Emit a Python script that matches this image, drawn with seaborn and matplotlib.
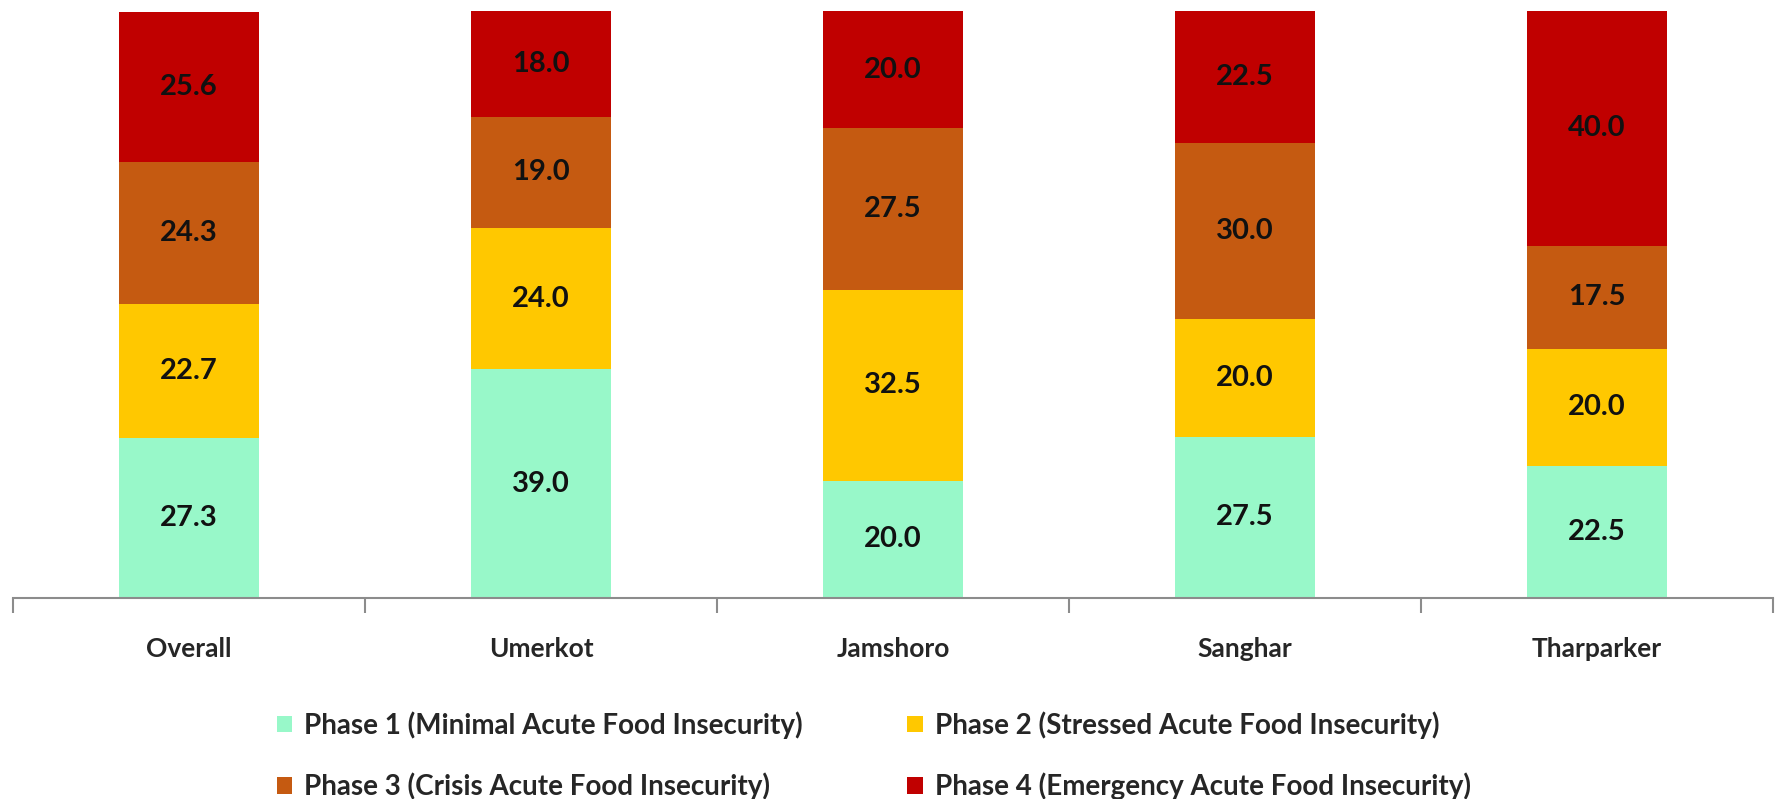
import matplotlib
matplotlib.use("Agg")
import matplotlib.pyplot as plt
from matplotlib.patches import Patch
import numpy as np
import pandas as pd
import seaborn as sns

districts = ["Overall", "Umerkot", "Jamshoro", "Sanghar", "Tharparker"]
phase1 = [27.3, 39.0, 20.0, 27.5, 22.5]
phase2 = [22.7, 24.0, 32.5, 20.0, 20.0]
phase3 = [24.3, 19.0, 27.5, 30.0, 17.5]
phase4 = [25.6, 18.0, 20.0, 22.5, 40.0]
phase_names = ["Phase 1 (Minimal Acute Food Insecurity)",
               "Phase 2 (Stressed Acute Food Insecurity)",
               "Phase 3 (Crisis Acute Food Insecurity)",
               "Phase 4 (Emergency Acute Food Insecurity)"]
colors = ["#98F8C9", "#FFC800", "#C55A11", "#C00000"]

sns.set_style("white")
plt.rcParams['font.family'] = ['Lato', 'DejaVu Sans']

df = pd.DataFrame({"district": districts, "p1": phase1, "p2": phase2, "p3": phase3, "p4": phase4})
layers = ["p1", "p2", "p3", "p4"]
cum = df[layers].cumsum(axis=1)

fig = plt.figure(figsize=(17.85, 7.99), dpi=100)
ax = fig.add_axes([0.0073, 0.2516, 0.986, 0.7346])

# draw cumulative layers from top down so lower ones overlay
for i in range(3, -1, -1):
    sns.barplot(x=df["district"], y=cum[layers[i]], color=colors[i], width=0.4,
                saturation=1, ax=ax, edgecolor="none", linewidth=0)

# value labels
for j in range(len(districts)):
    base = 0
    for i, col in enumerate(layers):
        v = df[col][j]
        ax.text(j, base + v / 2, f"{v:.1f}", ha="center", va="center",
                fontsize=21, fontweight="bold", color="#111111")
        base += v

ax.set_ylim(0, 100)
ax.set_xlim(-0.5, 4.5)
ax.set_xlabel("")
ax.set_ylabel("")
ax.set_yticks([])
for s in ["top", "right", "left"]:
    ax.spines[s].set_visible(False)
ax.spines["bottom"].set_color("#8c8c8c")
ax.spines["bottom"].set_linewidth(1.5)
ax.set_xticks(range(len(districts)))
ax.set_xticklabels(districts, fontsize=19, fontweight="bold")
ax.tick_params(axis="x", which="major", length=0, pad=28, bottom=True)
ax.set_xticks(np.arange(-0.5, 5, 1), minor=True)
ax.tick_params(axis="x", which="minor", length=11, width=1.5, color="#8c8c8c",
               direction="out", bottom=True)

handles = [Patch(facecolor=colors[k], edgecolor="none", label=phase_names[k]) for k in [0, 2, 1, 3]]
fig.legend(handles=handles, ncol=2, loc="upper left", bbox_to_anchor=(0.155, 0.110),
           bbox_transform=fig.transFigure, frameon=False, prop={"size": 20, "weight": "bold"},
           handlelength=0.55, handleheight=0.55, handletextpad=0.45, labelspacing=1.22,
           columnspacing=3.75, borderaxespad=0, borderpad=0)

plt.savefig("out.png", dpi=100)
